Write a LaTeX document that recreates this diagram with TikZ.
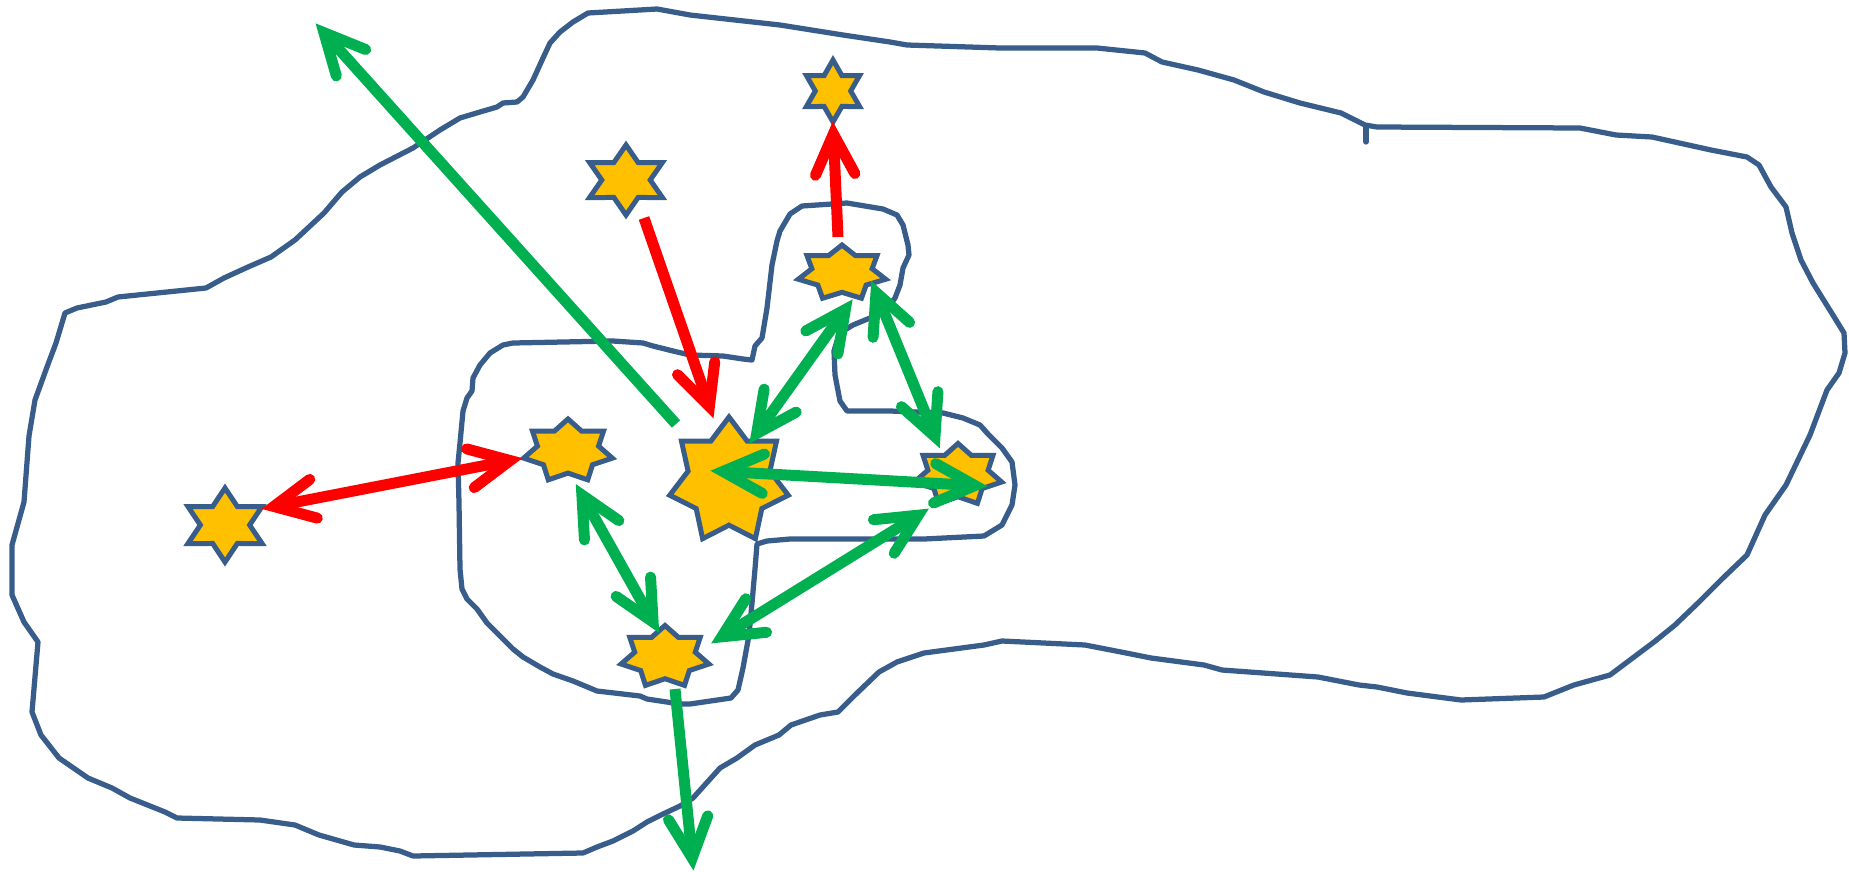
\documentclass[tikz,border=0pt]{standalone}
\usetikzlibrary{calc}
\definecolor{olblue}{HTML}{385D8A}
\definecolor{stfill}{HTML}{FFC000}
\definecolor{agreen}{HTML}{00B050}
\definecolor{ared}{HTML}{FF0000}
\tikzset{
  outl/.style={draw=olblue, line width=1.05mm, line join=round, line cap=round},
  starsty/.style={draw=olblue, fill=stfill, line width=1mm, line join=miter},
  gline/.style={draw=agreen, line width=2.2mm, line cap=butt},
  rline/.style={draw=ared, line width=2.2mm, line cap=butt},
  ghead/.style={draw=agreen, line width=2.2mm, line cap=round, line join=miter, miter limit=20},
  rhead/.style={draw=ared, line width=2.2mm, line cap=round, line join=miter, miter limit=20},
}
\newcommand\mystar[7]{% name x y n R s k
  \coordinate (#1) at (#2,#3);
  \pgfmathtruncatemacro\nlast{2*#4-1}
  \draw[starsty, shift={(#2,#3)}, xscale=#6] (-90:#5)
    \foreach \i in {1,...,\nlast} { -- ({-90+\i*180/#4}:{ifthenelse(isodd(\i),#7*#5,#5)}) } -- cycle;
}
\newcommand\arhead[3]{% tip, from, style
  \path ($(#1)!1.6mm!(#2)$) coordinate (hv);
  \draw[#3] ($(hv)!9mm!26:(#2)$) -- (hv) -- ($(hv)!9mm!-26:(#2)$);
}
\newcommand\sarrow[4]{% from, to, line style, head style
  \draw[#3] (#1) -- ($(#2)!1.6mm!(#1)$);
  \arhead{#2}{#1}{#4}
}
\newcommand\darrow[4]{%
  \draw[#3] ($(#1)!1.6mm!(#2)$) -- ($(#2)!1.6mm!(#1)$);
  \arhead{#1}{#2}{#4}
  \arhead{#2}{#1}{#4}
}
\begin{document}
\begin{tikzpicture}[x=0.2mm, y=-0.2mm]
\useasboundingbox (0,0) rectangle (1849,871);
% outer outline
\draw[outl] (29,436) -- (35,400) -- (47,367) -- (56,343) -- (65,313) -- (77,308) -- (106,302) -- (118,297) -- (206,288) -- (224,278) -- (248,267) -- (271,257) -- (295,240) -- (324,213) -- (342,192) -- (360,177) -- (380,165) -- (413,148) -- (440,130) -- (460,118) -- (480,112) -- (497,107) -- (503,103) -- (517,102) -- (523,97) -- (533,80) -- (543,58) -- (550,43) -- (560,32) -- (573,22) -- (588,13) -- (657,9) -- (690,15) -- (780,25) -- (843,35) -- (890,42) -- (907,45) -- (1000,48) -- (1097,48) -- (1145,53) -- (1162,62) -- (1198,70) -- (1234,80) -- (1264,92) -- (1300,103) -- (1341,113) -- (1365,125) -- (1377,127) -- (1580,128) -- (1616,135) -- (1652,137) -- (1711,150) -- (1747,157) -- (1759,165) -- (1771,187) -- (1786,207) -- (1792,233) -- (1801,260) -- (1813,283) -- (1836,320) -- (1844,333) -- (1845,353) -- (1839,373) -- (1827,390) -- (1810,435) -- (1786,485) -- (1765,515) -- (1747,555) -- (1723,578) -- (1699,602) -- (1675,625) -- (1654,642) -- (1634,657) -- (1610,675) -- (1574,685) -- (1544,697) -- (1461,700) -- (1407,693) -- (1377,687) -- (1359,685) -- (1318,677) -- (1222,670) -- (1204,665) -- (1151,658) -- (1121,652) -- (1085,645) -- (1002,641) -- (984,645) -- (924,653) -- (897,662) -- (879,672) -- (855,695) -- (838,712) -- (820,715) -- (791,725) -- (779,735) -- (755,745) -- (737,758) -- (720,768) -- (693,798) -- (680,806) -- (663,814) -- (647,822) -- (633,831) -- (613,841) -- (597,847) -- (583,853) -- (413,856) -- (400,851) -- (380,847) -- (354,845) -- (319,835) -- (295,825) -- (260,820) -- (177,818) -- (165,812) -- (130,798) -- (112,788) -- (88,778) -- (59,758) -- (41,735) -- (32,712) -- (38,642) -- (24,622) -- (12,595) -- (12,545) -- (24,502) -- cycle;
\draw[outl] (1366,127) -- (1366,142);
% inner loop
\draw[outl] (463,411) -- (467,398) -- (472,391) -- (473,378) -- (480,365) -- (490,353) -- (503,345) -- (513,343) -- (613,341) -- (643,343) -- (653,346) -- (673,351) -- (690,355) -- (723,356) -- (743,359) -- (752,360) -- (755,346) -- (762,338) -- (767,308) -- (772,265) -- (777,241) -- (780,231) -- (790,214) -- (802,206) -- (847,203) -- (883,209) -- (897,215) -- (903,225) -- (908,245) -- (909,255) -- (903,268) -- (900,285) -- (895,298) -- (887,308) -- (870,318) -- (853,325) -- (843,331) -- (837,341) -- (834,351) -- (835,375) -- (840,401) -- (847,411) -- (890,411) -- (943,413) -- (963,418) -- (980,425) -- (988,434) -- (1002,448) -- (1012,462) -- (1015,485) -- (1012,505) -- (1002,525) -- (984,536) -- (924,539) -- (790,539) -- (767,541) -- (757,544) -- (755,569) -- (752,603) -- (749,635) -- (743,668) -- (738,690) -- (731,698) -- (690,704) -- (680,704) -- (647,699) -- (640,696) -- (597,691) -- (573,681) -- (553,674) -- (540,667) -- (523,657) -- (513,649) -- (503,639) -- (487,623) -- (477,609) -- (467,599) -- (462,589) -- (460,569) -- (459,503) -- (458,463) -- (460,443) -- cycle;
% stars
\mystar{sA}{225}{525}{6}{37}{1.155}{0.577}
\mystar{sG}{626}{180}{6}{35}{1.2}{0.577}
\mystar{sT}{833}{91}{6}{31}{0.99}{0.577}
\mystar{sB}{568}{451}{7}{32}{1.42}{0.69}
\mystar{sC}{729}{481}{7}{64}{0.95}{0.69}
\mystar{sD}{665}{657}{7}{31.5}{1.43}{0.69}
\mystar{sE}{842}{273}{7}{28}{1.6}{0.69}
\mystar{sF}{958}{475}{7}{31.5}{1.42}{0.69}
% arrow end points
\coordinate (g1a) at (676,424); \coordinate (g1b) at (318.6,26.7);
\coordinate (r2a) at (644,218); \coordinate (r2b) at (712,414);
\coordinate (r3a) at (838,237); \coordinate (r3b) at (833,126);
\coordinate (r4a) at (266,508); \coordinate (r4b) at (518,459);
\coordinate (g5a) at (752,440); \coordinate (g5b) at (850,303);
\coordinate (g6a) at (873,285); \coordinate (g6b) at (938,444);
\coordinate (g7a) at (715,471); \coordinate (g7b) at (983,486);
\coordinate (g8a) at (715,641); \coordinate (g8b) at (925,511);
\coordinate (g9a) at (578,488); \coordinate (g9b) at (657,629);
\coordinate (g10a) at (675,689); \coordinate (g10b) at (693,866);
% arrows
\sarrow{g1a}{g1b}{gline}{ghead}
\sarrow{r2a}{r2b}{rline}{rhead}
\sarrow{r3a}{r3b}{rline}{rhead}
\darrow{r4a}{r4b}{rline}{rhead}
\darrow{g5a}{g5b}{gline}{ghead}
\darrow{g6a}{g6b}{gline}{ghead}
\darrow{g7a}{g7b}{gline}{ghead}
\darrow{g8a}{g8b}{gline}{ghead}
\darrow{g9a}{g9b}{gline}{ghead}
\sarrow{g10a}{g10b}{gline}{ghead}
\end{tikzpicture}
\end{document}
